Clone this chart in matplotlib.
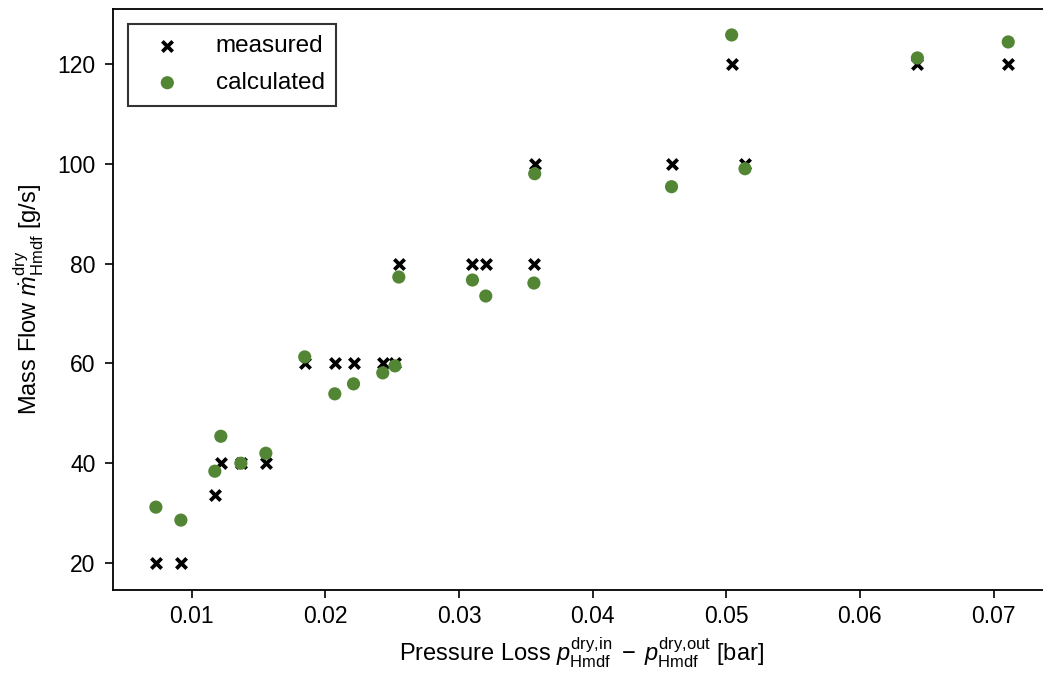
import matplotlib
matplotlib.use("Agg")
import matplotlib.pyplot as plt

plt.rcParams['font.family'] = ['Liberation Sans', 'DejaVu Sans']
plt.rcParams['mathtext.fontset'] = 'custom'
plt.rcParams['mathtext.rm'] = 'Liberation Sans'
plt.rcParams['mathtext.it'] = 'Liberation Sans:italic'
plt.rcParams['mathtext.bf'] = 'Liberation Sans:bold'

pressure_loss = [0.00731, 0.00918, 0.01172, 0.01217, 0.01367, 0.01554, 0.01845,
                 0.0207, 0.0221, 0.02429, 0.0252, 0.02549, 0.0310, 0.0320,
                 0.0356, 0.03566, 0.0459, 0.0504, 0.0514, 0.0643, 0.0711]
measured = [20, 20, 33.6, 40, 40, 40, 60, 60, 60, 60, 60, 80, 80, 80,
            80, 100, 100, 120, 100, 120, 120]
calculated = [31.2, 28.6, 38.4, 45.4, 40.0, 42.0, 61.3, 53.9, 55.9, 58.1, 59.5,
              77.3, 76.7, 73.5, 76.1, 98.0, 95.4, 125.8, 99.0, 121.2, 124.4]

fig = plt.figure(figsize=(10.43, 6.79), dpi=100)
ax = fig.add_axes([113/1043, 1-590/679, 938/1043, 581/679])

ax.scatter(pressure_loss, measured, marker='x', s=55, linewidths=2.7,
           color='black', label='measured', zorder=2)
ax.scatter(pressure_loss, calculated, marker='o', s=90, color='#538634',
           edgecolors='none', label='calculated', zorder=3)

ax.set_xlim(0.0041, 0.0743)
ax.set_ylim(14.6, 131.0)
ax.set_xticks([0.01, 0.02, 0.03, 0.04, 0.05, 0.06, 0.07])
ax.set_yticks([20, 40, 60, 80, 100, 120])
ax.tick_params(labelsize=16.5, length=6, width=1.2)
ax.tick_params(axis='y', pad=6.5)
ax.tick_params(axis='x', pad=4.5)
for sp in ax.spines.values():
    sp.set_linewidth(1.3)

ax.set_xlabel(r'Pressure Loss $p_{\mathrm{Hmdf}}^{\mathrm{dry{,}in}}\;-\;p_{\mathrm{Hmdf}}^{\mathrm{dry{,}out}}$ [bar]',
              fontsize=17, labelpad=6)
ax.set_ylabel(r'Mass Flow $\dot{m}_{\mathrm{Hmdf}}^{\mathrm{dry}}$ [g/s]', fontsize=17, labelpad=8)

leg = ax.legend(loc='upper left', fontsize=17.5, fancybox=False, framealpha=1,
                edgecolor='#333333', borderpad=0.47, handlelength=2.33,
                handletextpad=0.83, labelspacing=0.62, borderaxespad=0.6,
                scatterpoints=1)
leg.get_frame().set_linewidth(1.5)

fig.savefig('out.png', dpi=100)
